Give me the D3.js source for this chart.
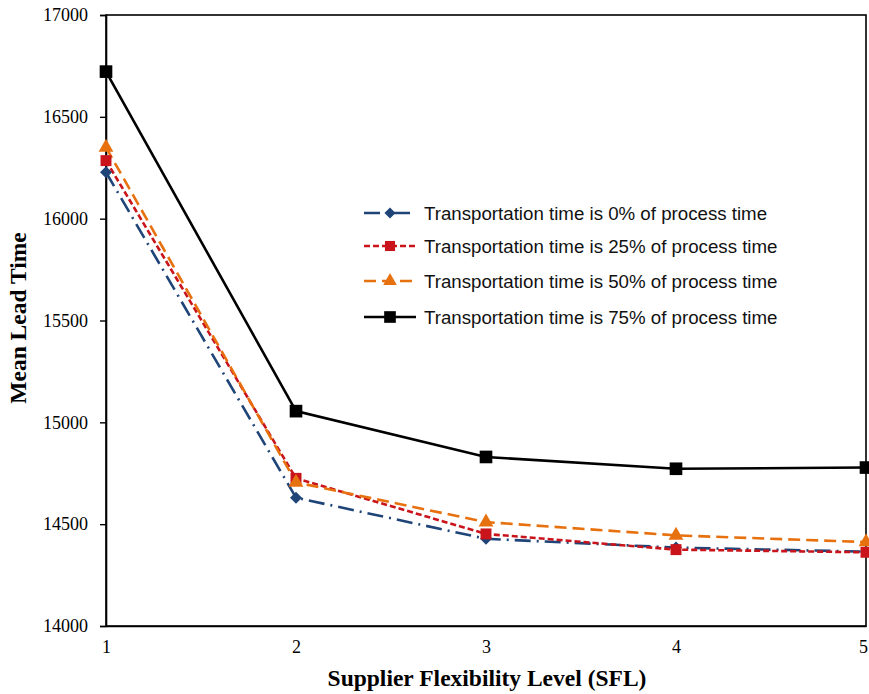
<!DOCTYPE html>
<html>
<head>
<meta charset="utf-8">
<script src="https://cdn.jsdelivr.net/npm/d3@7"></script>
<style>
  html, body { margin: 0; padding: 0; background: #fff; }
  svg { display: block; }
</style>
</head>
<body>
<svg id="chart" width="869" height="694"></svg>
<script>
// Supplier flexibility levels on the x axis
const sflLevels = [1, 2, 3, 4, 5];

// Mean lead time for each transportation-time share
const lead0 = [16228, 14630, 14428, 14385, 14365];
const lead25 = [16285, 14725, 14452, 14375, 14362];
const lead50 = [16350, 14705, 14510, 14445, 14412];
const lead75 = [16722, 15055, 14830, 14772, 14778];

const seriesNames = [
  "Transportation time is 0% of process time",
  "Transportation time is 25% of process time",
  "Transportation time is 50% of process time",
  "Transportation time is 75% of process time"
];

const yTicks = [14000, 14500, 15000, 15500, 16000, 16500, 17000];

// Blue markers are squares turned 45 degrees (rot)
const series = [
  { name: seriesNames[0], values: lead0, color: "#1f4478", dash: "16,6,2,6", symbol: d3.symbolSquare, size: 72, rot: 45 },
  { name: seriesNames[1], values: lead25, color: "#c8141a", dash: "6,3", symbol: d3.symbolSquare, size: 120, rot: 0 },
  { name: seriesNames[2], values: lead50, color: "#e8710f", dash: "12,6", symbol: d3.symbolTriangle, size: 95, rot: 0 },
  { name: seriesNames[3], values: lead75, color: "#000000", dash: null, symbol: d3.symbolSquare, size: 160, rot: 0 }
];

const svg = d3.select("#chart");
const plotLeft = 106, plotRight = 866, plotTop = 15, plotBottom = 626;

const x = d3.scaleLinear().domain([1, 5]).range([plotLeft, plotRight]);
const y = d3.scaleLinear().domain([14000, 17000]).range([plotBottom, plotTop]);

// Frame around the plotting area
svg.append("rect")
  .attr("x", plotLeft).attr("y", plotTop)
  .attr("width", plotRight - plotLeft).attr("height", plotBottom - plotTop)
  .attr("fill", "none").attr("stroke", "#000").attr("stroke-width", 1.6);

// Y axis
const yAxis = svg.append("g")
  .attr("transform", `translate(${plotLeft},0)`)
  .call(d3.axisLeft(y).tickValues(yTicks).tickFormat(d3.format("d")).tickSize(6).tickPadding(12));
yAxis.select(".domain").attr("stroke-width", 1.6);
yAxis.selectAll("line").attr("stroke-width", 1.4);
yAxis.selectAll("text")
  .attr("font-family", "Liberation Serif, Times New Roman, serif")
  .attr("font-size", 18).attr("fill", "#000");

// X axis (labels only)
const xAxis = svg.append("g")
  .attr("transform", `translate(0,${plotBottom})`)
  .call(d3.axisBottom(x).tickValues(sflLevels).tickFormat(d3.format("d")).tickSize(0).tickPadding(14));
xAxis.select(".domain").attr("stroke-width", 1.6);
xAxis.selectAll("text")
  .attr("font-family", "Liberation Serif, Times New Roman, serif")
  .attr("font-size", 18).attr("fill", "#000");
// keep the last label inside the canvas
xAxis.selectAll(".tick").filter(d => d === 5).select("text").attr("dx", -3);

// Axis titles
svg.append("text")
  .attr("x", 487).attr("y", 686)
  .attr("text-anchor", "middle")
  .attr("font-family", "Liberation Serif, Times New Roman, serif")
  .attr("font-weight", "bold").attr("font-size", 23.5)
  .text("Supplier Flexibility Level (SFL)");

svg.append("text")
  .attr("transform", "translate(26,318) rotate(-90)")
  .attr("text-anchor", "middle")
  .attr("font-family", "Liberation Serif, Times New Roman, serif")
  .attr("font-weight", "bold").attr("font-size", 23.5)
  .text("Mean Lead Time");

// Lines and markers
const line = d3.line().x((d, i) => x(sflLevels[i])).y(d => y(d));

series.forEach(s => {
  svg.append("path")
    .datum(s.values)
    .attr("d", line)
    .attr("fill", "none")
    .attr("stroke", s.color)
    .attr("stroke-width", 2.6)
    .attr("stroke-dasharray", s.dash);
});

series.forEach(s => {
  svg.append("g").selectAll("path")
    .data(s.values)
    .join("path")
    .attr("transform", (d, i) => `translate(${x(sflLevels[i])},${y(d)}) rotate(${s.rot})`)
    .attr("d", d3.symbol().type(s.symbol).size(s.size))
    .attr("fill", s.color);
});

// Legend
const legend = svg.append("g");
const rowY = [213, 246, 281, 317];
series.forEach((s, i) => {
  const g = legend.append("g").attr("transform", `translate(0,${rowY[i]})`);
  g.append("line")
    .attr("x1", 364).attr("x2", 416).attr("y1", 0).attr("y2", 0)
    .attr("stroke", s.color).attr("stroke-width", 2.6)
    .attr("stroke-dasharray", s.dash);
  g.append("path")
    .attr("transform", `translate(390,0) rotate(${s.rot})`)
    .attr("d", d3.symbol().type(s.symbol).size(s.size * 0.85))
    .attr("fill", s.color);
  g.append("text")
    .attr("x", 424).attr("y", 6.5)
    .attr("font-family", "Liberation Sans, Arial, sans-serif")
    .attr("font-size", 18.7).attr("fill", "#111")
    .text(s.name);
});
</script>
</body>
</html>
